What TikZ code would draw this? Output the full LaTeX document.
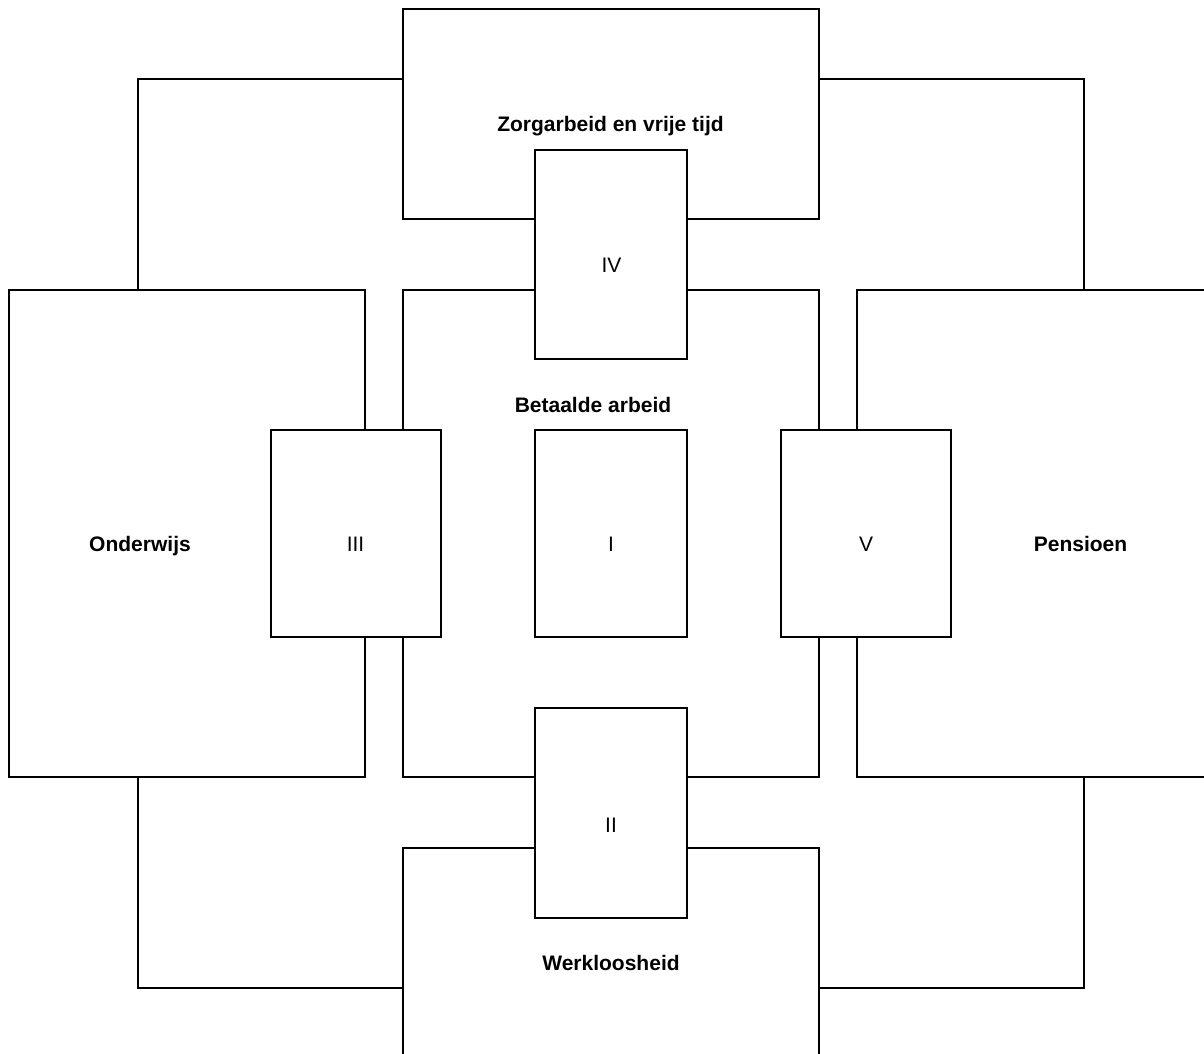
\documentclass[tikz,border=0pt]{standalone}
\usepackage{fontspec}
\setmainfont{Liberation Sans}
\usetikzlibrary{calc}
\begin{document}
\begin{tikzpicture}[x=1pt,y=-1pt,
  bigbox/.style={draw=black,line width=2pt,fill=white,inner sep=0pt},
  smallbox/.style={draw=black,line width=2pt,fill=white,inner sep=0pt},
  link/.style={draw=black,line width=2pt},
  boldlbl/.style={font=\fontsize{21}{25}\selectfont\bfseries,anchor=base,inner sep=0pt},
  numlbl/.style={font=\fontsize{21}{25}\selectfont,anchor=base,inner sep=0pt}]
\useasboundingbox (0,0) rectangle (1204,1054);
\clip (0,0) rectangle (1204,1054);
\fill[white] (0,0) rectangle (1204,1054);
% large boxes
\node[bigbox,minimum width=416pt,minimum height=210pt] (zorg) at (611,114) {};
\node[bigbox,minimum width=416pt,minimum height=487pt] (bet) at (611,533.5) {};
\node[bigbox,minimum width=356pt,minimum height=487pt] (ond) at (187,533.5) {};
\node[bigbox,minimum width=356pt,minimum height=487pt] (pen) at (1035,533.5) {};
\node[bigbox,minimum width=416pt,minimum height=210pt] (werk) at (611,953) {};
% connectors
\draw[link] ($(zorg.north west)!0.333!(zorg.south west)$) -| ($(ond.north west)!0.362!(ond.north east)$);
\draw[link] ($(zorg.north east)!0.333!(zorg.south east)$) -| ($(pen.north east)!0.362!(pen.north west)$);
\draw[link] ($(werk.south west)!0.333!(werk.north west)$) -| ($(ond.south west)!0.362!(ond.south east)$);
\draw[link] ($(werk.south east)!0.333!(werk.north east)$) -| ($(pen.south east)!0.362!(pen.south west)$);
% small boxes
\node[smallbox,minimum width=152pt,minimum height=209pt] (b4) at (611,254.5) {};
\node[smallbox,minimum width=152pt,minimum height=207pt] (b1) at (611,533.5) {};
\node[smallbox,minimum width=152pt,minimum height=210pt] (b2) at (611,812.5) {};
\node[smallbox,minimum width=170pt,minimum height=207pt] (b3) at (356,533.5) {};
\node[smallbox,minimum width=170pt,minimum height=207pt] (b5) at (866,533.5) {};
% labels
\node[boldlbl] (tzorg) at (610.5,131.5) {Zorgarbeid en vrije tijd};
\node[boldlbl] (tbet) at (593,412.3) {Betaalde arbeid};
\node[boldlbl] (tond) at (140,551) {Onderwijs};
\node[boldlbl] (tpen) at (1080.5,551) {Pensioen};
\node[boldlbl] (twerk) at (611,970.7) {Werkloosheid};
\node[numlbl] (t4) at (611.5,272.3) {IV};
\node[numlbl] (t1) at (611,551.5) {I};
\node[numlbl] (t2) at (611,832.5) {II};
\node[numlbl] (t3) at (355.5,551.5) {III};
\node[numlbl] (t5) at (866,551.5) {V};
\end{tikzpicture}
\end{document}
